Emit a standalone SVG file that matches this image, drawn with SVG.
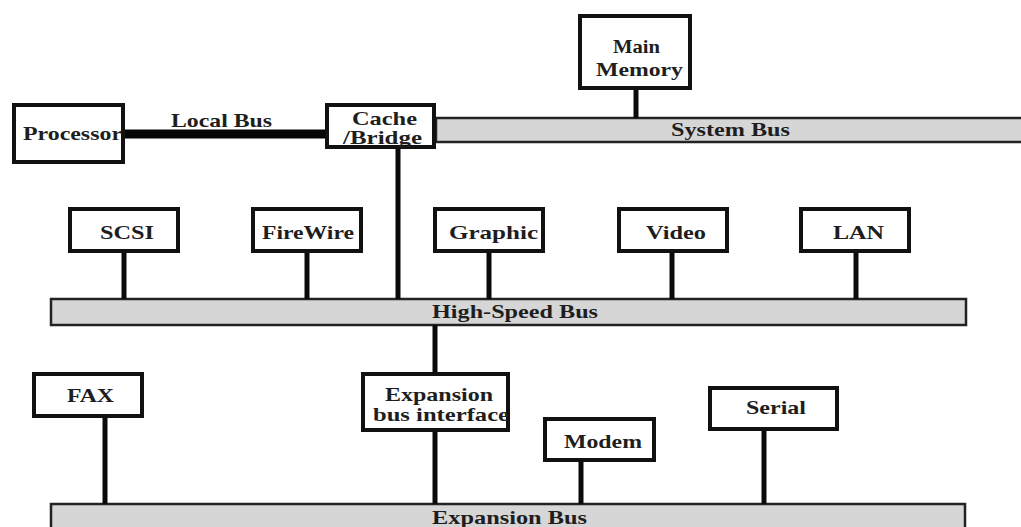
<svg xmlns="http://www.w3.org/2000/svg" width="1021" height="527" viewBox="0 0 1021 527">
  <style>
    .box { fill: #ffffff; stroke: #111111; stroke-width: 4; }
    .bus { fill: #d6d6d6; stroke: #222222; stroke-width: 2.5; }
    .link { stroke: #0a0a0a; stroke-width: 5; fill: none; }
    .local { stroke: #050505; stroke-width: 9; fill: none; }
    text { font-family: "Liberation Serif", "Times New Roman", serif; font-weight: bold; font-size: 19px; fill: #1e1e1e; }
  </style>
  <rect width="1021" height="527" fill="#ffffff"/>

  <!-- buses -->
  <g id="system-bus">
    <rect class="bus" x="436" y="118" width="590" height="24"/>
    <text x="671" y="136" textLength="119" lengthAdjust="spacingAndGlyphs">System Bus</text>
  </g>
  <g id="high-speed-bus">
    <rect class="bus" x="51" y="299" width="915" height="26"/>
    <text x="432" y="318" textLength="166" lengthAdjust="spacingAndGlyphs">High-Speed Bus</text>
  </g>
  <g id="expansion-bus">
    <rect class="bus" x="51" y="504" width="914" height="30"/>
    <text x="432" y="524" textLength="155" lengthAdjust="spacingAndGlyphs">Expansion Bus</text>
  </g>

  <!-- connectors -->
  <g id="connectors">
    <line class="local" x1="125" y1="134" x2="326" y2="134"/>
    <line class="link" x1="636" y1="90" x2="636" y2="118"/>
    <line class="link" x1="398" y1="149" x2="398" y2="299"/>
    <line class="link" x1="124" y1="253" x2="124" y2="299"/>
    <line class="link" x1="307" y1="253" x2="307" y2="299"/>
    <line class="link" x1="489" y1="253" x2="489" y2="299"/>
    <line class="link" x1="672" y1="253" x2="672" y2="299"/>
    <line class="link" x1="856" y1="253" x2="856" y2="299"/>
    <line class="link" x1="435" y1="325" x2="435" y2="374"/>
    <line class="link" x1="435" y1="432" x2="435" y2="504"/>
    <line class="link" x1="105" y1="418" x2="105" y2="504"/>
    <line class="link" x1="581" y1="462" x2="581" y2="504"/>
    <line class="link" x1="764" y1="431" x2="764" y2="504"/>
  </g>
  <text x="171" y="127" textLength="101" lengthAdjust="spacingAndGlyphs">Local Bus</text>

  <!-- nodes -->
  <g id="processor">
    <rect class="box" x="14" y="105" width="109" height="57"/>
    <text x="23" y="140" textLength="99" lengthAdjust="spacingAndGlyphs">Processor</text>
  </g>
  <g id="cache-bridge">
    <rect class="box" x="327" y="105" width="107" height="42"/>
    <text x="352" y="125" textLength="65" lengthAdjust="spacingAndGlyphs">Cache</text>
    <text x="343" y="144" textLength="79" lengthAdjust="spacingAndGlyphs">/Bridge</text>
  </g>
  <g id="main-memory">
    <rect class="box" x="580" y="16" width="110" height="72"/>
    <text x="613" y="53" textLength="47" lengthAdjust="spacingAndGlyphs">Main</text>
    <text x="596" y="76" textLength="87" lengthAdjust="spacingAndGlyphs">Memory</text>
  </g>
  <g id="scsi">
    <rect class="box" x="70" y="209" width="108" height="42"/>
    <text x="100" y="239" textLength="54" lengthAdjust="spacingAndGlyphs">SCSI</text>
  </g>
  <g id="firewire">
    <rect class="box" x="253" y="209" width="108" height="42"/>
    <text x="262" y="239" textLength="92" lengthAdjust="spacingAndGlyphs">FireWire</text>
  </g>
  <g id="graphic">
    <rect class="box" x="435" y="209" width="108" height="42"/>
    <text x="449" y="239" textLength="89" lengthAdjust="spacingAndGlyphs">Graphic</text>
  </g>
  <g id="video">
    <rect class="box" x="619" y="209" width="108" height="42"/>
    <text x="646" y="239" textLength="60" lengthAdjust="spacingAndGlyphs">Video</text>
  </g>
  <g id="lan">
    <rect class="box" x="801" y="209" width="108" height="42"/>
    <text x="833" y="239" textLength="51" lengthAdjust="spacingAndGlyphs">LAN</text>
  </g>
  <g id="fax">
    <rect class="box" x="34" y="374" width="108" height="42"/>
    <text x="67" y="402" textLength="47" lengthAdjust="spacingAndGlyphs">FAX</text>
  </g>
  <g id="expansion-bus-interface">
    <rect class="box" x="363" y="374" width="145" height="56"/>
    <text x="385" y="401" textLength="108" lengthAdjust="spacingAndGlyphs">Expansion</text>
    <text x="373" y="421" textLength="136" lengthAdjust="spacingAndGlyphs">bus interface</text>
  </g>
  <g id="modem">
    <rect class="box" x="545" y="419" width="109" height="41"/>
    <text x="564" y="448" textLength="78" lengthAdjust="spacingAndGlyphs">Modem</text>
  </g>
  <g id="serial">
    <rect class="box" x="710" y="388" width="127" height="41"/>
    <text x="746" y="414" textLength="60" lengthAdjust="spacingAndGlyphs">Serial</text>
  </g>
</svg>
